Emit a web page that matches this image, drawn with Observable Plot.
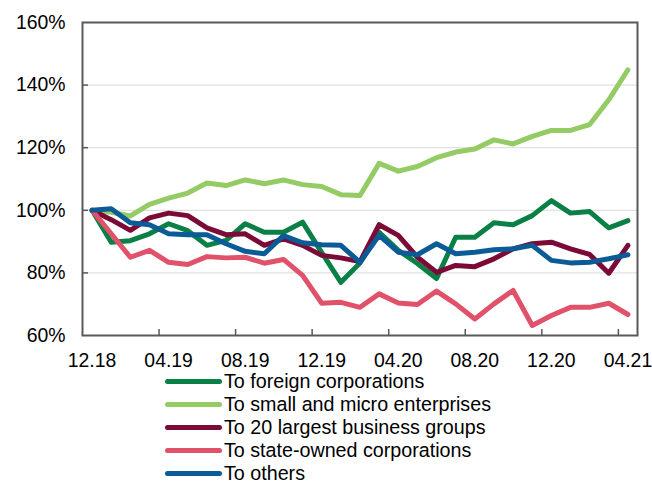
<!DOCTYPE html>
<html>
<head>
<meta charset="utf-8">
<script src="https://cdn.jsdelivr.net/npm/d3@7"></script>
<script src="https://cdn.jsdelivr.net/npm/@observablehq/plot@0.6"></script>
<style>
  html, body { margin: 0; padding: 0; background: #fff; }
  #wrap { width: 652px; font-family: "Liberation Sans", Arial, sans-serif; }
  #legend { padding-left: 165px; font-size: 19.7px; color: #000; }
  .row { display: flex; align-items: center; height: 22.9px; }
  .sw { width: 57px; height: 5px; border-radius: 2.5px; flex: none; }
  .lab { margin-left: 2px; white-space: nowrap; line-height: 14px; }
</style>
</head>
<body>
<div id="wrap">
  <div id="chart"></div>
  <div id="legend"></div>
</div>
<script>
const months = ["12.18","01.19","02.19","03.19","04.19","05.19","06.19","07.19","08.19","09.19","10.19","11.19",
                "12.19","01.20","02.20","03.20","04.20","05.20","06.20","07.20","08.20","09.20","10.20","11.20",
                "12.20","01.21","02.21","03.21","04.21"];

const foreign  = [100, 89.8, 90.3, 92.5, 95.7, 93.5, 88.8, 90.4, 95.7, 93.0, 93.0, 96.2, 86.5, 77.0, 83.2, 93.0, 87.2, 83.0, 78.2, 91.4, 91.4, 96.0, 95.4, 98.3, 103.1, 99.1, 99.6, 94.4, 96.7];
const smallMicro = [100, 99.4, 98.2, 101.9, 103.9, 105.5, 108.7, 107.9, 109.7, 108.5, 109.7, 108.2, 107.6, 105.0, 104.7, 115.0, 112.5, 114.0, 116.8, 118.6, 119.6, 122.5, 121.2, 123.6, 125.5, 125.5, 127.4, 135.3, 144.9];
const largest20 = [100, 97.0, 93.6, 97.6, 99.1, 98.3, 94.4, 92.2, 92.5, 88.8, 90.9, 88.8, 85.6, 84.8, 83.6, 95.4, 92.0, 85.0, 80.2, 82.4, 82.0, 84.5, 87.7, 89.3, 89.8, 87.7, 85.9, 79.9, 88.8];
const stateOwned = [100, 92.5, 85.0, 87.2, 83.4, 82.7, 85.2, 84.8, 85.0, 83.1, 84.3, 79.2, 70.3, 70.6, 69.0, 73.3, 70.4, 69.9, 74.2, 70.1, 65.3, 70.1, 74.4, 63.2, 66.4, 69.0, 69.0, 70.3, 66.7];
const others = [100, 100.5, 96.0, 95.4, 92.5, 92.2, 92.2, 89.3, 86.9, 86.1, 91.9, 89.6, 89.0, 88.8, 83.4, 92.0, 86.6, 85.8, 89.3, 86.1, 86.6, 87.4, 87.7, 88.8, 84.0, 83.2, 83.4, 84.5, 85.8];

const seriesNames = ["To foreign corporations", "To small and micro enterprises", "To 20 largest business groups", "To state-owned corporations", "To others"];
const seriesValues = [foreign, smallMicro, largest20, stateOwned, others];
const seriesColors = ["#0a7f46", "#94cb64", "#7b0a37", "#e0516a", "#0b5b97"];

const yLabelTicks = [60, 80, 100, 120, 140, 160];
const yGridTicks = [80, 100, 120, 140];
const xLabelIdx = [0, 4, 8, 12, 16, 20, 24, 28];
const xTickBounds = [3.5, 7.5, 11.5, 15.5, 19.5, 23.5, 27.5];

const H = 370, ML = 82, MR = 15, MT = 22, MB = 35;
const innerW = 652 - ML - MR, innerH = H - MT - MB;

const lineMarks = seriesValues.map((vals, s) =>
  Plot.lineY(vals.map((v, i) => ({i, v})), {
    x: "i", y: "v", stroke: seriesColors[s], strokeWidth: 5,
    strokeLinecap: "round", strokeLinejoin: "round"
  })
);

const chart = Plot.plot({
  width: 652, height: H,
  marginLeft: ML, marginRight: MR, marginTop: MT, marginBottom: MB,
  x: {type: "linear", domain: [-0.5, 28.5]},
  y: {type: "linear", domain: [60, 160]},
  style: {fontFamily: "'Liberation Sans', Arial, sans-serif", fontSize: "19.4px", color: "#000", background: "#fff", overflow: "visible"},
  marks: [
    Plot.gridY(yGridTicks, {stroke: "#d9d9d9", strokeOpacity: 1, strokeWidth: 1}),
    ...lineMarks,
    Plot.frame({stroke: "#595959", strokeWidth: 2}),
    Plot.tickY(yGridTicks, {y: d => d, stroke: "#595959", strokeWidth: 1.5, insetRight: innerW - 6}),
    Plot.tickX(xTickBounds, {x: d => d, stroke: "#595959", strokeWidth: 1.5, insetTop: innerH - 6}),
    Plot.axisY(yLabelTicks, {tickSize: 0, tickPadding: 17, tickFormat: d => d + "%", label: null, fill: "#000"}),
    Plot.axisX(xLabelIdx, {tickSize: 0, tickPadding: 18, tickFormat: i => months[i], label: null, fill: "#000"})
  ]
});
document.getElementById("chart").appendChild(chart);

const legend = document.getElementById("legend");
seriesNames.forEach((name, s) => {
  const row = document.createElement("div");
  row.className = "row";
  const sw = document.createElement("span");
  sw.className = "sw";
  sw.style.background = seriesColors[s];
  const lab = document.createElement("span");
  lab.className = "lab";
  lab.textContent = name;
  row.appendChild(sw);
  row.appendChild(lab);
  legend.appendChild(row);
});
</script>
</body>
</html>
